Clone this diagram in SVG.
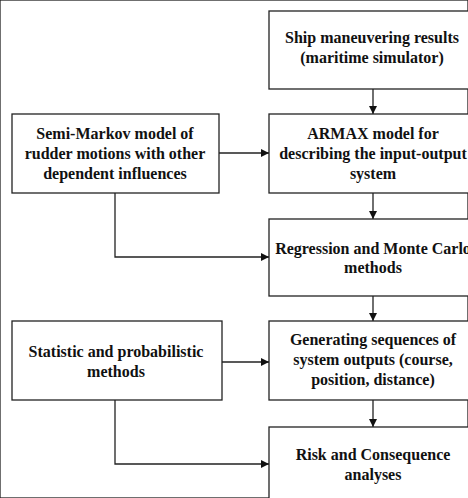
<svg xmlns="http://www.w3.org/2000/svg" width="468" height="498" viewBox="0 0 468 498">
<style>
rect{fill:#fff;stroke:#222;stroke-width:1.3}
text{font-family:"Liberation Serif","Times New Roman",serif;font-size:16px;font-weight:bold;fill:#111;text-anchor:middle}
.c{fill:none;stroke:#222;stroke-width:1.3}
</style>
<defs>
<marker id="a" viewBox="0 0 10 10" refX="10" refY="5" markerWidth="8" markerHeight="8" markerUnits="userSpaceOnUse" orient="auto">
<path d="M0,0L10,5L0,10z" fill="#111"/>
</marker>
</defs>
<rect width="468" height="498" fill="#fff" stroke="none"/>
<g id="connectors">
<path class="c" d="M373,89V114" marker-end="url(#a)"/>
<path class="c" d="M373,193V219" marker-end="url(#a)"/>
<path class="c" d="M373,296V321" marker-end="url(#a)"/>
<path class="c" d="M373,400V427" marker-end="url(#a)"/>
<path class="c" d="M219,153H269" marker-end="url(#a)"/>
<path class="c" d="M115,193V257H269" marker-end="url(#a)"/>
<path class="c" d="M222,362H269" marker-end="url(#a)"/>
<path class="c" d="M115,400V464H269" marker-end="url(#a)"/>
</g>
<g id="ship">
<rect x="269" y="11" width="208" height="78"/>
<text x="372" y="43">Ship maneuvering results</text>
<text x="372" y="63">(maritime simulator)</text>
</g>
<g id="semimarkov">
<rect x="12" y="114" width="207" height="79"/>
<text x="115" y="139">Semi-Markov model of</text>
<text x="115" y="159">rudder motions with other</text>
<text x="115" y="179">dependent influences</text>
</g>
<g id="armax">
<rect x="269" y="114" width="208" height="79"/>
<text x="373" y="139">ARMAX model for</text>
<text x="373" y="159">describing the input-output</text>
<text x="373" y="179">system</text>
</g>
<g id="regression">
<rect x="269" y="219" width="208" height="77"/>
<text x="373" y="254">Regression and Monte Carlo</text>
<text x="373" y="273">methods</text>
</g>
<g id="statistic">
<rect x="12" y="321" width="210" height="79"/>
<text x="116" y="357">Statistic and probabilistic</text>
<text x="116" y="377">methods</text>
</g>
<g id="generating">
<rect x="269" y="321" width="208" height="79"/>
<text x="373" y="345">Generating sequences of</text>
<text x="373" y="365">system outputs (course,</text>
<text x="373" y="385">position, distance)</text>
</g>
<g id="risk">
<rect x="269" y="427" width="208" height="80"/>
<text x="373" y="460">Risk and Consequence</text>
<text x="373" y="480">analyses</text>
</g>
</svg>
